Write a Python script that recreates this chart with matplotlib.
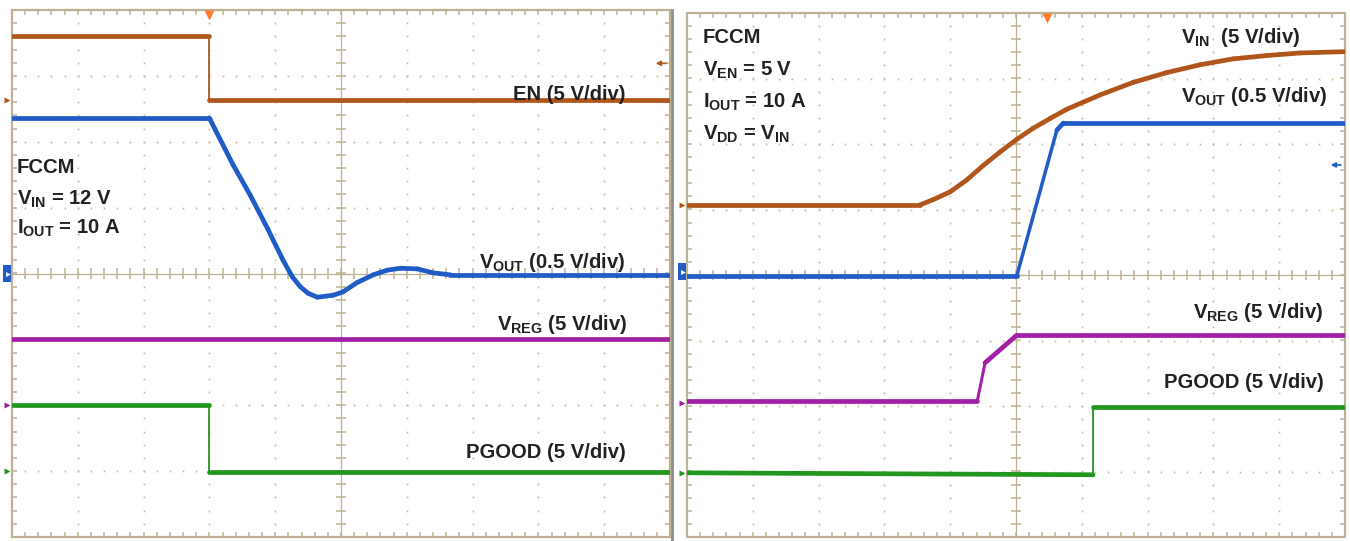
import numpy as np
import matplotlib
matplotlib.use("Agg")
import matplotlib.pyplot as plt
from matplotlib.collections import LineCollection
from matplotlib.patches import Rectangle

# ---------------- data (time and amplitude in screen divisions) ----------------
# Left screen: EN turn-off
L_EN_T = [0.0, 2.99, 2.99, 10.0]
L_EN_V = [3.61, 3.61, 2.63, 2.63]
L_VOUT_T = [0.0, 2.99, 3.01, 3.09, 3.36, 3.62, 3.88, 4.12, 4.26, 4.38, 4.50, 4.64,
            4.88, 5.03, 5.24, 5.49, 5.70, 5.90, 6.16, 6.40, 6.66, 10.0]
L_VOUT_V = [2.36, 2.36, 2.34, 2.18, 1.65, 1.19, 0.69, 0.20, -0.05, -0.20, -0.30, -0.36,
            -0.33, -0.28, -0.14, -0.02, 0.05, 0.08, 0.07, 0.01, -0.02, -0.02]
L_VREG_T = [0.0, 10.0]
L_VREG_V = [-0.99, -0.99]
L_PG_T = [0.0, 2.99, 2.99, 10.0]
L_PG_V = [-2.0, -2.0, -3.02, -3.02]

# Right screen: VIN power-up
R_VIN_T = [0.0, 3.54, 3.74, 4.00, 4.25, 4.50, 4.76, 5.01, 5.26, 5.52, 5.77, 6.28,
           6.78, 7.29, 7.80, 8.30, 8.81, 9.32, 10.0]
R_VIN_V = [1.07, 1.07, 1.15, 1.27, 1.45, 1.67, 1.88, 2.07, 2.24, 2.39, 2.53, 2.75,
           2.94, 3.09, 3.21, 3.30, 3.35, 3.39, 3.41]
R_VOUT_T = [0.0, 5.01, 5.62, 5.72, 10.0]
R_VOUT_V = [-0.02, -0.02, 2.21, 2.32, 2.32]
R_VREG_T = [0.0, 4.41, 4.53, 5.01, 10.0]
R_VREG_V = [-1.93, -1.93, -1.34, -0.92, -0.92]
R_PG_T = [0.0, 6.17, 6.17, 10.0]
R_PG_V = [-3.02, -3.05, -2.02, -2.02]

# channel ground-reference marker levels (divisions)
L_MARKS = [2.63, 0.0, -2.0, -3.0]
R_MARKS = [1.07, 0.05, -1.95, -3.02]
L_TRIG = 2.99
R_TRIG = 5.47

# ---------------- style ----------------
C_EN = '#B0561C'
C_VO = '#1F5CC6'
C_VR = '#A21FA6'
C_PG = '#23961F'
C_GRID = '#BDB394'
C_DOT = '#C9C1A6'
C_TXT = '#222222'

plt.rcParams['font.family'] = ['Liberation Sans', 'DejaVu Sans']
plt.rcParams['mathtext.fontset'] = 'custom'
plt.rcParams['mathtext.bf'] = 'Liberation Sans:bold'
plt.rcParams['mathtext.rm'] = 'Liberation Sans'
plt.rcParams['mathtext.it'] = 'Liberation Sans:italic'

FS = 14.6

fig = plt.figure(figsize=(13.5, 5.41), dpi=100)
W, H = 1350.0, 541.0
axL = fig.add_axes([12 / W, 1 - 537 / H, 658 / W, 527 / H])
axR = fig.add_axes([687 / W, 1 - 537 / H, 658 / W, 524 / H])


def draw_screen(ax):
    ax.set_xlim(0, 10)
    ax.set_ylim(-4, 4)
    ax.axis('off')
    minor = np.arange(0.2, 10.0, 0.2)
    minor_y = np.arange(-3.8, 4.0, 0.2)
    # dotted graticule
    for xi in [1, 2, 3, 4, 6, 7, 8, 9]:
        ax.plot(np.full(minor_y.size, xi), minor_y, ls='none', marker='s', ms=1.3,
                mec='none', mfc=C_DOT, zorder=1)
    for yi in [-3, -2, -1, 1, 2, 3]:
        ax.plot(minor, np.full(minor.size, yi), ls='none', marker='s', ms=1.3,
                mec='none', mfc=C_DOT, zorder=1)
    # center axes
    ax.plot([0, 10], [0, 0], color=C_GRID, lw=0.9, zorder=1)
    ax.plot([5, 5], [-4, 4], color=C_GRID, lw=0.9, zorder=1)
    segs = []
    tl = 0.08
    for x in minor:
        segs.append([(x, -tl), (x, tl)])
        segs.append([(x, -4), (x, -4 + tl)])
        segs.append([(x, 4), (x, 4 - tl)])
    for y in minor_y:
        segs.append([(5 - tl, y), (5 + tl, y)])
        segs.append([(0, y), (tl, y)])
        segs.append([(10, y), (10 - tl, y)])
    ax.add_collection(LineCollection(segs, colors=C_GRID, linewidths=1.1, zorder=1))
    ax.add_patch(Rectangle((0, -4), 10, 8, fill=False, ec=C_GRID, lw=1.6, zorder=1,
                           clip_on=False))


def draw_trace(ax, t, v, color, base=3.4):
    t = np.asarray(t, float)
    v = np.asarray(v, float)
    segs, lws = [], []
    for i in range(len(t) - 1):
        dx, dy = t[i + 1] - t[i], v[i + 1] - v[i]
        ang = np.degrees(np.arctan2(abs(dy), abs(dx)))
        if ang <= 65:
            lw = base
        else:
            lw = max(1.3, base - (base - 1.3) * (ang - 65) / 23.0)
        lws.append(lw)
        segs.append([(t[i], v[i]), (t[i + 1], v[i + 1])])
    lc = LineCollection(segs, colors=color, linewidths=lws, capstyle='round',
                        joinstyle='round', zorder=3)
    ax.add_collection(lc)


def ground_markers(ax, levels, colors):
    for lv, c in zip(levels, colors):
        if c == C_VO:
            ax.add_patch(Rectangle((-0.13, lv - 0.13), 0.12, 0.26, fc=c, ec='none',
                                   clip_on=False, zorder=4))
            ax.plot([-0.06], [lv], marker='>', ms=3.5, color='white', mec='none',
                    clip_on=False, zorder=5)
        else:
            ax.plot([-0.08], [lv], marker='>', ms=4.5, color=c, mec='none',
                    clip_on=False, zorder=4)


def lbl(ax, x, y, s, ha='left'):
    ax.text(x, y, s, ha=ha, va='baseline', fontsize=FS, fontweight='bold',
            color=C_TXT, zorder=6)


# ---------------- left screen ----------------
draw_screen(axL)
draw_trace(axL, L_EN_T, L_EN_V, C_EN)
draw_trace(axL, L_VOUT_T, L_VOUT_V, C_VO)
draw_trace(axL, L_VREG_T, L_VREG_V, C_VR)
draw_trace(axL, L_PG_T, L_PG_V, C_PG)
ground_markers(axL, L_MARKS, [C_EN, C_VO, C_VR, C_PG])
axL.plot([L_TRIG], [3.93], marker='v', ms=7, color='#FF7A2A', mec='none',
         clip_on=False, zorder=5)
axL.annotate('', xy=(9.74, 3.19), xytext=(9.98, 3.19),
             arrowprops=dict(arrowstyle='-|>', color=C_EN, lw=1.2, mutation_scale=7),
             zorder=5)
lbl(axL, 9.32, 2.63, 'EN (5 V/div)', ha='right')
lbl(axL, 9.32, 0.08, r'V$_{\mathbf{OUT}}$ (0.5 V/div)', ha='right')
lbl(axL, 9.35, -0.86, r'V$_{\mathbf{REG}}$ (5 V/div)', ha='right')
lbl(axL, 9.32, -2.80, 'PGOOD (5 V/div)', ha='right')
lbl(axL, 0.07, 1.52, 'FCCM')
lbl(axL, 0.07, 1.04, r'V$_{\mathbf{IN}}$ = 12 V')
lbl(axL, 0.07, 0.61, r'I$_{\mathbf{OUT}}$ = 10 A')

# ---------------- right screen ----------------
draw_screen(axR)
draw_trace(axR, R_VIN_T, R_VIN_V, C_EN)
draw_trace(axR, R_VOUT_T, R_VOUT_V, C_VO)
draw_trace(axR, R_VREG_T, R_VREG_V, C_VR)
draw_trace(axR, R_PG_T, R_PG_V, C_PG)
ground_markers(axR, R_MARKS, [C_EN, C_VO, C_VR, C_PG])
axR.plot([R_TRIG], [3.93], marker='v', ms=7, color='#FF7A2A', mec='none',
         clip_on=False, zorder=5)
axR.annotate('', xy=(9.74, 1.68), xytext=(9.98, 1.68),
             arrowprops=dict(arrowstyle='-|>', color=C_VO, lw=1.2, mutation_scale=7),
             zorder=5)
lbl(axR, 9.32, 3.54, r'V$_{\mathbf{IN}}$  (5 V/div)', ha='right')
lbl(axR, 9.73, 2.64, r'V$_{\mathbf{OUT}}$ (0.5 V/div)', ha='right')
lbl(axR, 9.67, -0.66, r'V$_{\mathbf{REG}}$ (5 V/div)', ha='right')
lbl(axR, 9.67, -1.73, 'PGOOD (5 V/div)', ha='right')
lbl(axR, 0.24, 3.54, 'FCCM')
lbl(axR, 0.24, 3.05, r'V$_{\mathbf{EN}}$ = 5 V')
lbl(axR, 0.24, 2.55, r'I$_{\mathbf{OUT}}$ = 10 A')
lbl(axR, 0.24, 2.06, r'V$_{\mathbf{DD}}$ = V$_{\mathbf{IN}}$')

# separator between the two screenshots
fig.add_artist(plt.Line2D([671.5 / W, 671.5 / W], [0, 1 - 10 / H], color='#8C8C8C',
                          lw=2.0))

fig.savefig('out.png', dpi=100, facecolor='white')
